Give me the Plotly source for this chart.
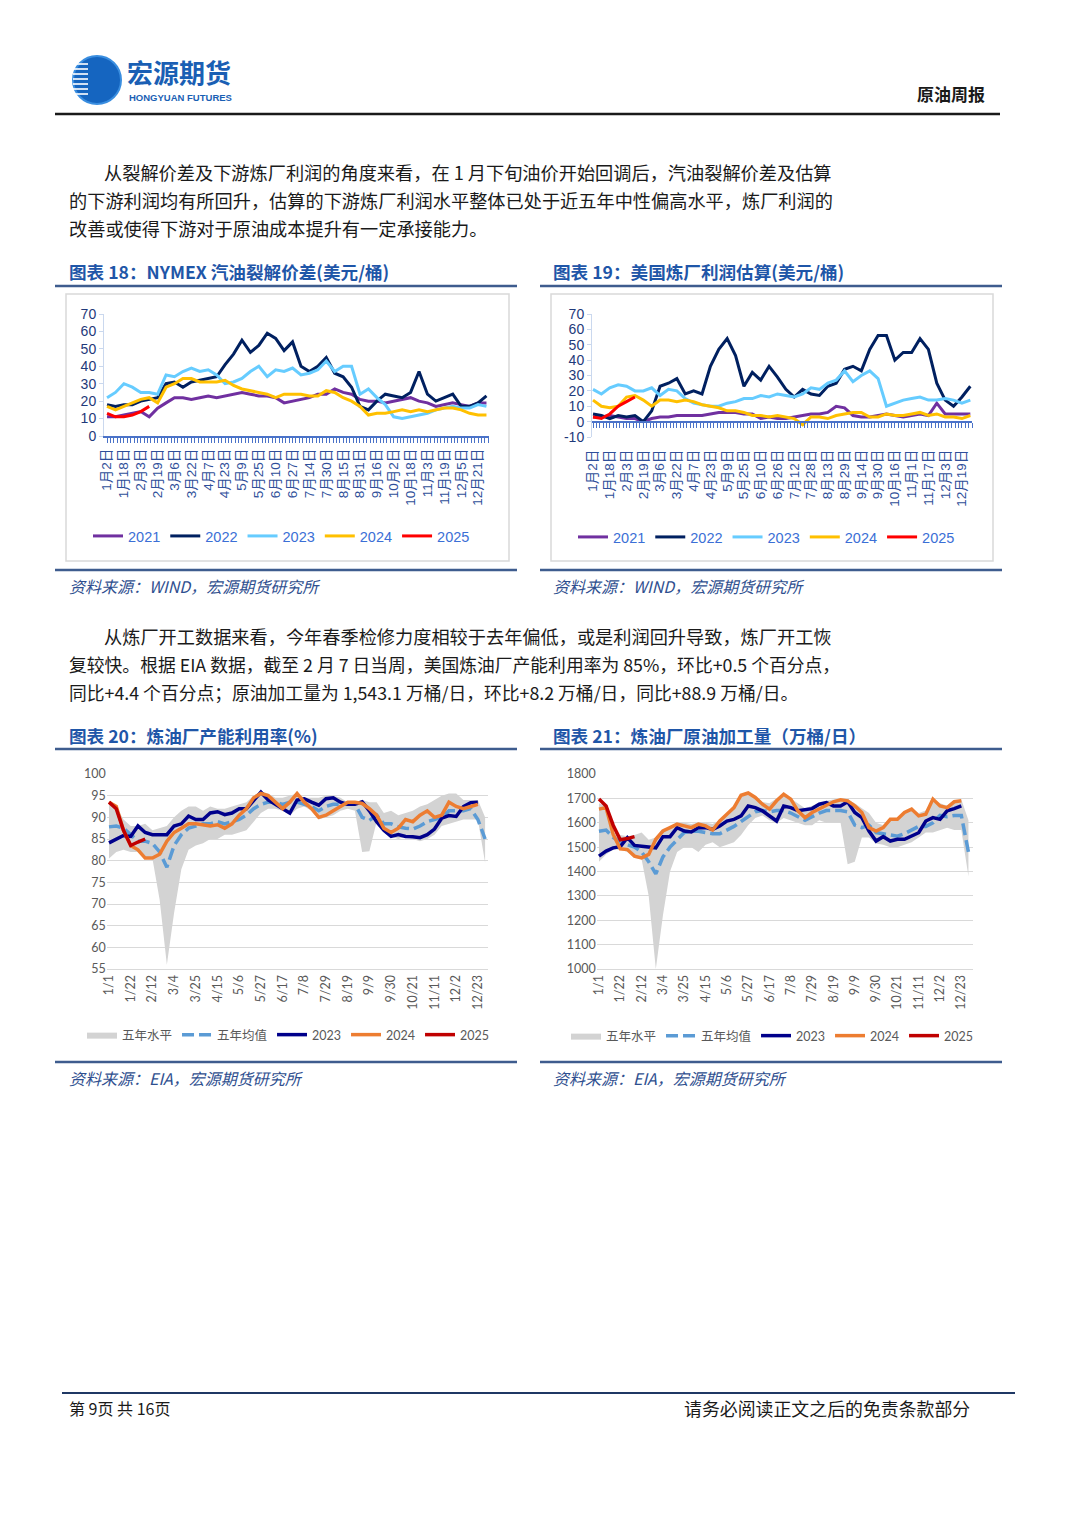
import plotly.graph_objects as go

W, H = 1080, 1527
def X(px): return px / W
def Y(py): return 1 - py / H

# ---------------- data ----------------
years5 = ["2021", "2022", "2023", "2024", "2025"]

c18_ticks = ["1月2日","1月18日","2月3日","2月19日","3月6日","3月22日","4月7日","4月23日","5月9日","5月25日",
             "6月10日","6月27日","7月14日","7月30日","8月15日","8月31日","9月16日","10月2日","10月18日",
             "11月3日","11月19日","12月5日","12月21日"]
c19_ticks = ["1月2日","1月18日","2月3日","2月19日","3月6日","3月22日","4月7日","4月23日","5月9日","5月25日",
             "6月10日","6月26日","7月12日","7月28日","8月13日","8月29日","9月14日","9月30日","10月16日",
             "11月1日","11月17日","12月3日","12月19日"]
c18_yticks = [0, 10, 20, 30, 40, 50, 60, 70]
c19_yticks = [-10, 0, 10, 20, 30, 40, 50, 60, 70]
week_ticks = ["1/1","1/22","2/12","3/4","3/25","4/15","5/6","5/27","6/17","7/8","7/29","8/19","9/9",
              "9/30","10/21","11/11","12/2","12/23"]

# Chart 18: NYMEX gasoline crack (USD/bbl), sampled every half label-interval
c18_2021 = [11,11,12,13,14,11,16,19,22,22,21,22,23,22,23,24,25,24,23,23,22,19,20,21,22,24,24,27,25,24,21,20,20,19,20,21,22,20,19,17,18,19,18,17,19,19]
c18_2022 = [18,17,18,18,20,21,22,30,31,28,31,32,33,34,41,47,55,48,52,59,56,49,54,40,37,40,45,36,34,28,17,15,20,24,23,22,25,37,24,20,22,24,17,17,19,23]
c18_2023 = [22,25,30,28,25,25,24,35,34,37,39,37,38,35,30,31,33,37,40,34,38,37,39,35,36,38,43,37,40,40,24,27,22,18,11,10,11,12,13,15,16,17,16,16,18,17]
c18_2024 = [17,15,17,19,21,22,19,28,30,33,33,31,31,31,32,29,27,26,25,24,22,24,24,24,23,23,26,25,22,20,17,12,13,13,14,15,14,15,14,15,16,16,15,13,12,12]
c18_2025 = [13,11,11,12,14,17]

# Chart 19: US refinery margin estimate (USD/bbl)
c19_2021 = [3,3,4,3,2,2,0,2,3,3,4,4,4,4,5,6,6,6,5,5,2,3,2,2,3,4,5,5,6,10,9,4,3,3,4,5,4,3,4,5,4,12,5,5,5,5]
c19_2022 = [5,4,2,4,3,4,0,7,23,25,28,18,20,18,36,47,54,43,23,32,27,36,29,21,16,21,18,17,23,25,34,36,33,47,56,56,40,45,45,54,47,25,14,10,16,23]
c19_2023 = [21,18,22,24,23,20,20,22,17,21,20,15,12,11,10,10,12,13,15,15,17,16,18,17,16,18,22,21,25,27,33,26,30,33,28,10,12,14,15,16,14,14,15,14,12,14]
c19_2024 = [14,10,9,10,16,17,14,10,14,14,13,14,13,11,10,9,7,7,6,4,4,3,4,3,2,-2,3,3,2,4,5,6,6,3,3,5,4,4,5,6,4,5,3,3,2,4]
c19_2025 = [3,2,5,10,13,16]

# Chart 20: refinery utilization (%), weekly
c20_max = [93.5,92.5,89.5,88,88,88.5,87,87.5,88,90,91.5,92.5,92.5,91.5,92.5,92,92,92.5,93,93.5,95,96,95.5,94.5,94.5,95,95.5,94.5,94.5,94.5,95,95,94.5,93.5,93.5,94,93.5,93.5,91,91.5,90.5,91,91.5,92.5,93,94,95,95.5,95.5,94,94,94,90]
c20_min = [80.5,82,82.5,82,82,80.5,80.5,71,56,68,78,82.5,83.5,84,85,85,86,86,86.5,87,89,91,92,92,91.5,90.5,92,92.5,91.5,89.5,90,90.5,91.5,92,91.5,82,82.2,89,86.5,85.5,85,85.5,85,84.5,85,86,88,88.5,89,89.5,89.5,89.5,79.5]
c20_mean = [87.8,88,87.5,86,84.5,84.5,84,82,78.5,83.5,86,87.5,88,88.5,88.5,89,88.5,89,89.5,90.5,92,93,93.5,93.5,93,93.5,93.5,93,92.5,91.5,92.5,93,93,93,93,90,89.3,90.5,88.5,88.5,87.8,87.5,87.3,88,89,89.5,90,91.5,91.5,91.5,92,89.5,85]
c20_2023 = [84.1,85.0,85.8,85.6,88.0,86.5,86.0,86.0,86.0,88.0,88.5,90.3,89.5,89.5,91.0,91.3,90.6,91.0,92.0,92.0,94.0,95.8,94.0,93.0,92.0,91.0,94.0,94.3,93.5,92.8,94.3,94.5,93.5,93.0,93.0,93.6,91.5,89.0,87.0,85.6,86.0,85.6,85.5,85.3,86.0,87.3,89.8,90.4,90.2,92.5,93.4,93.5]
c20_2024 = [93.5,92.5,87.0,83.5,82.5,80.6,80.6,81.5,84.5,86.5,87.5,88.5,88.5,88.3,88.0,88.3,87.5,88.5,90.5,92.0,94.5,95.5,95.0,93.5,92.0,93.5,95.5,93.5,92.0,90.0,90.5,91.5,92.5,93.5,93.5,93.2,92.0,90.5,87.5,86.5,87.5,89.5,89.0,90.5,91.5,90.0,90.5,93.5,92.5,92.0,92.5,93.0]
c20_2025 = [93.5,92.0,87.0,83.5,84.3,85.0]

# Chart 21: refinery crude runs (10k bbl/day), weekly
c21_max = [1680,1670,1560,1550,1545,1550,1560,1530,1540,1570,1585,1600,1600,1595,1600,1600,1595,1610,1640,1665,1715,1725,1710,1685,1680,1700,1720,1700,1680,1660,1670,1680,1690,1695,1700,1695,1680,1660,1640,1600,1590,1620,1620,1645,1660,1640,1650,1700,1680,1670,1690,1695,1610]
c21_min = [1440,1470,1490,1490,1480,1455,1450,1300,1000,1220,1400,1480,1500,1500,1480,1510,1520,1500,1510,1520,1550,1590,1620,1630,1610,1600,1620,1610,1600,1590,1590,1610,1600,1600,1600,1430,1440,1540,1540,1515,1510,1500,1500,1510,1520,1540,1560,1560,1570,1580,1570,1570,1380]
c21_mean = [1565,1570,1540,1520,1510,1500,1480,1440,1390,1460,1500,1530,1560,1565,1565,1560,1555,1555,1570,1585,1605,1625,1645,1650,1645,1650,1650,1640,1625,1610,1625,1640,1650,1650,1650,1645,1590,1580,1590,1560,1555,1550,1545,1555,1570,1585,1585,1600,1630,1625,1630,1630,1480]
c21_2023 = [1463,1484,1497,1502,1539,1507,1504,1502,1497,1543,1543,1580,1566,1562,1580,1580,1573,1587,1607,1614,1628,1669,1662,1649,1628,1607,1669,1662,1649,1653,1658,1676,1683,1669,1669,1686,1642,1621,1566,1525,1543,1525,1532,1532,1546,1559,1607,1621,1614,1649,1658,1669]
c21_2024 = [1656,1662,1552,1493,1490,1463,1456,1470,1532,1566,1580,1594,1587,1580,1594,1587,1570,1607,1635,1662,1713,1722,1704,1676,1656,1690,1717,1697,1649,1621,1642,1656,1669,1686,1694,1690,1669,1642,1580,1566,1580,1614,1614,1642,1656,1628,1635,1697,1669,1662,1686,1690]
c21_2025 = [1697,1669,1590,1530,1535,1543]

# ---------------- styles ----------------
wind_colors = ["#7030A0", "#002060", "#66CCFF", "#FFC000", "#FF0000"]
eia_colors = {"mean": "#5B9BD5", "2023": "#00008B", "2024": "#ED7D31", "2025": "#C00000", "band": "#D3D3D3"}
WIND_FONT = "Liberation Sans, Noto Sans CJK SC"
EIA_FONT = "Lato, Noto Sans CJK SC"
CJK = "Noto Sans CJK SC"

fig = go.Figure()

def half_x(vals):
    return [i * 0.5 for i in range(len(vals))]

def wk_x(vals):
    return list(range(len(vals)))

# Chart 18
for nm, vals, col in zip(years5, [c18_2021, c18_2022, c18_2023, c18_2024, c18_2025], wind_colors):
    fig.add_trace(go.Scatter(x=half_x(vals), y=vals, mode="lines", name=nm,
                             line=dict(color=col, width=3), xaxis="x", yaxis="y",
                             legend="legend", hoverinfo="skip"))
# Chart 19
for nm, vals, col in zip(years5, [c19_2021, c19_2022, c19_2023, c19_2024, c19_2025], wind_colors):
    fig.add_trace(go.Scatter(x=half_x(vals), y=vals, mode="lines", name=nm,
                             line=dict(color=col, width=3), xaxis="x2", yaxis="y2",
                             legend="legend2", hoverinfo="skip"))
# comb axes dummy traces
fig.add_trace(go.Scatter(x=[None], y=[None], xaxis="x5", yaxis="y", showlegend=False, hoverinfo="skip"))
fig.add_trace(go.Scatter(x=[None], y=[None], xaxis="x6", yaxis="y2", showlegend=False, hoverinfo="skip"))

def eia_traces(xa, ya, lg, vmin, vmax, vmean, v23, v24, v25):
    fig.add_trace(go.Scatter(x=wk_x(vmin), y=vmin, mode="lines", line=dict(width=0, color="rgba(0,0,0,0)"),
                             showlegend=False, xaxis=xa, yaxis=ya, hoverinfo="skip", legend=lg))
    fig.add_trace(go.Scatter(x=wk_x(vmax), y=vmax, mode="lines", line=dict(width=0, color=eia_colors["band"]),
                             fill="tonexty", fillcolor=eia_colors["band"], name="五年水平",
                             xaxis=xa, yaxis=ya, hoverinfo="skip", legend=lg))
    fig.add_trace(go.Scatter(x=wk_x(vmean), y=vmean, mode="lines", name="五年均值",
                             line=dict(color=eia_colors["mean"], width=3.5, dash="12px,5px"),
                             xaxis=xa, yaxis=ya, hoverinfo="skip", legend=lg))
    for nm, vals in (("2023", v23), ("2024", v24), ("2025", v25)):
        fig.add_trace(go.Scatter(x=wk_x(vals), y=vals, mode="lines", name=nm,
                                 line=dict(color=eia_colors[nm], width=3.5),
                                 xaxis=xa, yaxis=ya, hoverinfo="skip", legend=lg))

eia_traces("x3", "y3", "legend3", c20_min, c20_max, c20_mean, c20_2023, c20_2024, c20_2025)
eia_traces("x4", "y4", "legend4", c21_min, c21_max, c21_mean, c21_2023, c21_2024, c21_2025)

# ---------------- axes ----------------
wind_x_common = dict(tickmode="array", tickangle=-90, showline=False, ticks="", showgrid=False,
                     zeroline=False, ticklabelstandoff=9, automargin=False,
                     tickfont=dict(family=WIND_FONT, size=13.5, color="#2F4F9A"))
wind_y_common = dict(tickmode="array", showline=True, linecolor="#CAD8EE", linewidth=1, ticks="outside",
                     ticklen=4, tickcolor="#CAD8EE", showgrid=False, zeroline=False, automargin=False,
                     tickfont=dict(family=WIND_FONT, size=14, color="#1F3A7A"))
comb = dict(showline=True, linecolor="#4A72C8", linewidth=2, ticks="outside", ticklen=5,
            tickcolor="#4A72C8", tickwidth=1, tickmode="linear", tick0=0, dtick=0.2,
            showticklabels=False, showgrid=False, zeroline=False, automargin=False)

eia_x_common = dict(tickmode="array", tickvals=[i * 3 for i in range(len(week_ticks))], ticktext=week_ticks,
                    tickangle=-90, showline=True, linecolor="#D9D9D9", ticks="", showgrid=False,
                    zeroline=False, automargin=False, tickfont=dict(family=EIA_FONT, size=12.5, color="#595959"))
eia_y_common = dict(showline=False, ticks="", showgrid=True, gridcolor="#D9D9D9", gridwidth=1.2,
                    zeroline=False, automargin=False, tickfont=dict(family=EIA_FONT, size=12.5, color="#595959"))

fig.update_layout(
    xaxis=dict(domain=[X(104), X(489)], range=[-0.18, 22.65], anchor="y",
               tickvals=list(range(len(c18_ticks))), ticktext=c18_ticks, **wind_x_common),
    yaxis=dict(domain=[Y(436), Y(314)], range=[0, 70], anchor="x",
               tickvals=c18_yticks, ticktext=[str(v) for v in c18_yticks], **wind_y_common),
    xaxis5=dict(overlaying="x", range=[-0.18, 22.65], anchor="y", side="bottom", **comb),
    xaxis2=dict(domain=[X(592), X(972)], range=[-0.06, 22.6], anchor="y2",
                tickvals=list(range(len(c19_ticks))), ticktext=c19_ticks, **wind_x_common),
    yaxis2=dict(domain=[Y(437), Y(314)], range=[-10, 70], anchor="x2",
                tickvals=c19_yticks, ticktext=[str(v) for v in c19_yticks], **wind_y_common),
    xaxis6=dict(overlaying="x2", range=[-0.06, 22.6], anchor="free", position=Y(421.6), side="bottom", **comb),
    xaxis3=dict(domain=[X(106.7), X(488)], range=[-0.32, 52.4], anchor="y3", **eia_x_common),
    yaxis3=dict(domain=[Y(969), Y(774)], range=[55, 100], dtick=5, anchor="x3", **eia_y_common),
    xaxis4=dict(domain=[X(596.7), X(972.7)], range=[-0.32, 52.6], anchor="y4", **eia_x_common),
    yaxis4=dict(domain=[Y(969), Y(774)], range=[1000, 1800], dtick=100, anchor="x4", **eia_y_common),
)

leg_wind = dict(orientation="h", xanchor="left", yanchor="middle", bgcolor="rgba(0,0,0,0)",
                font=dict(family=WIND_FONT, size=14.5, color="#3B6FD6"), traceorder="normal")
leg_eia = dict(orientation="h", xanchor="left", yanchor="middle", bgcolor="rgba(0,0,0,0)",
               font=dict(family=EIA_FONT, size=12.5, color="#595959"), traceorder="normal")
fig.update_layout(
    legend=dict(x=X(88), y=Y(536), **leg_wind),
    legend2=dict(x=X(573), y=Y(537), **leg_wind),
    legend3=dict(x=X(82), y=Y(1035), **leg_eia),
    legend4=dict(x=X(566), y=Y(1036), **leg_eia),
)

# ---------------- page furniture ----------------
shapes = []
def hline(x0, x1, y, color, w):
    shapes.append(dict(type="line", xref="paper", yref="paper", x0=X(x0), x1=X(x1), y0=Y(y), y1=Y(y),
                       line=dict(color=color, width=w)))
def rect(x0, y0, x1, y1, line_color=None, fill=None, lw=1):
    shapes.append(dict(type="rect", xref="paper", yref="paper", x0=X(x0), x1=X(x1), y0=Y(y1), y1=Y(y0),
                       line=dict(color=line_color or "rgba(0,0,0,0)", width=lw if line_color else 0),
                       fillcolor=fill or "rgba(0,0,0,0)", layer="below"))

# header
hline(55, 1000, 114, "#1a1a1a", 2.5)
shapes.append(dict(type="circle", xref="paper", yref="paper", x0=X(73), x1=X(121), y0=Y(104), y1=Y(56),
                   fillcolor="#1565C0", line=dict(color="#3A8EE0", width=2)))
rect(88, 70, 105, 89, fill="white")
for yy in (64, 69, 74, 79, 84, 89, 94):
    hline(73, 88, yy, "white", 1.6)
# chart rules
for (a, b) in ((55, 517), (540, 1002)):
    hline(a, b, 286, "#3E5C8E", 2.5)
    hline(a, b, 570, "#3E5C8E", 2.5)
    hline(a, b, 749, "#3E5C8E", 2.5)
    hline(a, b, 1062, "#3E5C8E", 2.5)
rect(66, 294, 509, 561, line_color="#D9D9D9", lw=1.5)
rect(551, 294, 993, 561, line_color="#D9D9D9", lw=1.5)
# footer
hline(62, 1015, 1393, "#1F3864", 2)

ann = []
def txt(x, y, s, size, color="#1a1a1a", anchor="left", family=CJK):
    ann.append(dict(x=X(x), y=Y(y), xref="paper", yref="paper", text=s, showarrow=False,
                    xanchor=anchor, yanchor="middle", font=dict(size=size, color=color, family=family)))

txt(125, 72, "<b>宏源期货</b>", 26, "#1A5FB4")
txt(127, 97, "<b>HONGYUAN FUTURES</b>", 9.5, "#1A5FB4", family="Liberation Sans")
txt(987, 93, "<b>原油周报</b>", 17, "#1a1a1a", anchor="right")

body = "#1a1a1a"
txt(102, 172, "从裂解价差及下游炼厂利润的角度来看，在 1 月下旬油价开始回调后，汽油裂解价差及估算", 18.2, body)
txt(67, 200, "的下游利润均有所回升，估算的下游炼厂利润水平整体已处于近五年中性偏高水平，炼厂利润的", 18.2, body)
txt(67, 228, "改善或使得下游对于原油成本提升有一定承接能力。", 18.2, body)

txt(102, 636, "从炼厂开工数据来看，今年春季检修力度相较于去年偏低，或是利润回升导致，炼厂开工恢", 18.2, body)
txt(67, 664, "复较快。根据 EIA 数据，截至 2 月 7 日当周，美国炼油厂产能利用率为 85%，环比+0.5 个百分点，", 17.8, body)
txt(67, 692, "同比+4.4 个百分点；原油加工量为 1,543.1 万桶/日，环比+8.2 万桶/日，同比+88.9 万桶/日。", 17.8, body)

tcol = "#1F56A8"
txt(67, 271, "<b>图表 18：NYMEX 汽油裂解价差(美元/桶)</b>", 17.6, tcol)
txt(551, 271, "<b>图表 19：美国炼厂利润估算(美元/桶)</b>", 17.6, tcol)
txt(67, 735, "<b>图表 20：炼油厂产能利用率(%)</b>", 17.6, tcol)
txt(551, 735, "<b>图表 21：炼油厂原油加工量（万桶/日）</b>", 17.6, tcol)

scol = "#2F4F8F"
txt(67, 586, "<i>资料来源：WIND，宏源期货研究所</i>", 16, scol)
txt(551, 586, "<i>资料来源：WIND，宏源期货研究所</i>", 16, scol)
txt(67, 1078, "<i>资料来源：EIA，宏源期货研究所</i>", 16, scol)
txt(551, 1078, "<i>资料来源：EIA，宏源期货研究所</i>", 16, scol)

txt(67, 1408, "第 9页 共 16页", 16, "#1a1a1a")
txt(972, 1408, "请务必阅读正文之后的免责条款部分", 17.9, "#1a1a1a", anchor="right")

fig.update_layout(width=W, height=H, margin=dict(l=0, r=0, t=0, b=0, pad=0, autoexpand=False),
                  paper_bgcolor="white", plot_bgcolor="rgba(0,0,0,0)",
                  hovermode=False, shapes=shapes, annotations=ann)

fig.write_html("out.html", config={"displayModeBar": False},
               post_script="document.body.style.margin='0px';document.body.style.overflow='hidden';")
